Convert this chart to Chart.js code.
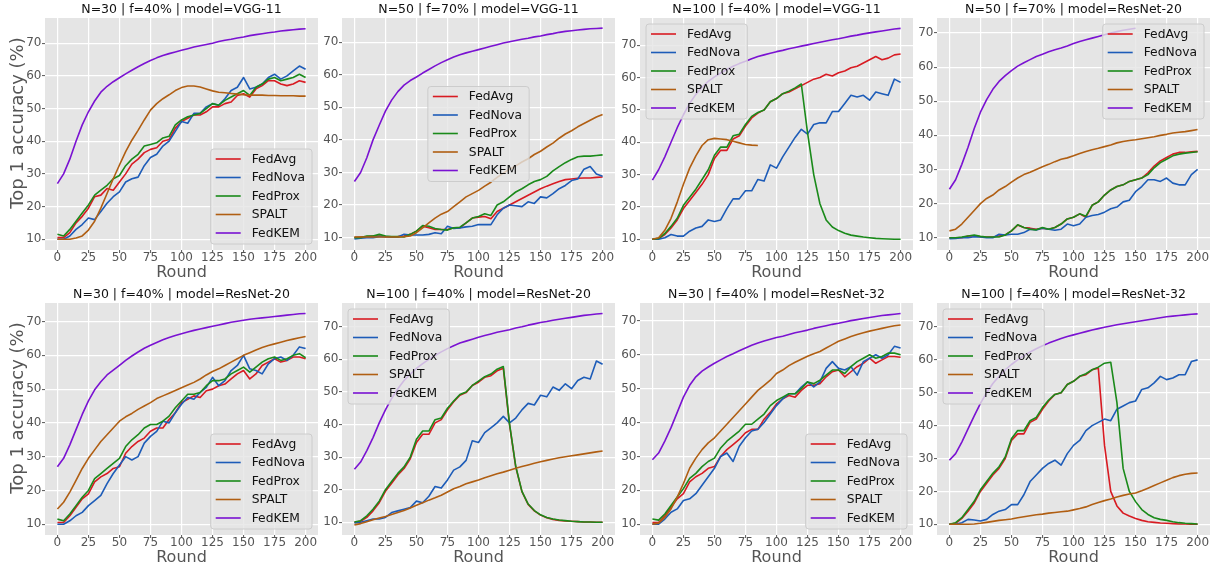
<!DOCTYPE html>
<html>
<head>
<meta charset="utf-8">
<script src="https://cdn.jsdelivr.net/npm/chart.js@4.4.0/dist/chart.umd.min.js"></script>
<style>
  html, body { margin: 0; padding: 0; background: #fff; }
  body { width: 1215px; height: 571px; position: relative; overflow: hidden; }
  canvas { position: absolute; }
</style>
</head>
<body>
<canvas id="c0"></canvas><canvas id="c1"></canvas><canvas id="c2"></canvas><canvas id="c3"></canvas>
<canvas id="c4"></canvas><canvas id="c5"></canvas><canvas id="c6"></canvas><canvas id="c7"></canvas>
<script>
// rounds sampled every 5
const rounds = [0,5,10,15,20,25,30,35,40,45,50,55,60,65,70,75,80,85,90,95,100,
  105,110,115,120,125,130,135,140,145,150,155,160,165,170,175,180,185,190,195,200];
const xTicks = [0,25,50,75,100,125,150,175,200];
const yTicks = [10,20,30,40,50,60,70];
const methods = ['FedAvg','FedNova','FedProx','SPALT','FedKEM'];
const titles = [
  'N=30 | f=40% | model=VGG-11', 'N=50 | f=70% | model=VGG-11',
  'N=100 | f=40% | model=VGG-11', 'N=50 | f=70% | model=ResNet-20',
  'N=30 | f=40% | model=ResNet-20', 'N=100 | f=40% | model=ResNet-20',
  'N=30 | f=40% | model=ResNet-32', 'N=100 | f=40% | model=ResNet-32'
];
const yRanges = [[6.7,77.7],[6.2,77.4],[6.7,78.4],[6.4,74.4],[6.8,75.5],[6.1,77.3],[6.8,75.3],[6.75,77.3]];

// panel 1: N=30 f=40% VGG-11
const p1FedAvg  = [10.5,10.5,12,15,17,19.5,23,23.5,25.5,25,27.5,30,33,34.5,36.5,37.5,38,40,40.5,44,46,47,48,48,49,50.5,50.5,51.5,52,54,54.5,53.5,56,57,58.5,58.5,57.5,57,57.5,58.5,58];
const p1FedNova = [10,10,11,13,14.5,16.5,16,18.5,21,23,24.5,27.5,28.5,29,32.5,35,36,38.5,40,43,46,45.5,48.5,48.5,50.5,51.5,51,53,55.5,56.5,59.5,56,56.5,57.5,59.5,60.5,59,60,61.5,63,62];
const p1FedProx = [11.5,11,13,15.5,18,20.5,23.5,25,26.5,28.5,29.5,32.5,34.5,36,38.5,39,39.5,41,41.5,45,46.5,47.5,48,48.5,50,51.5,51,52.5,53.5,54.5,55.5,54,56.5,57.5,59,59.5,58.5,59,59.5,60.5,59.5];
const p1SPALT   = [10,10,10,10.4,11,12.8,15.5,19.5,24,28.5,32.7,36.8,40.3,43.3,46.5,49.5,51.5,53,54.2,55.5,56.4,56.9,56.9,56.6,56,55.4,55,54.8,54.6,54.4,54.2,54.1,54.1,54.1,54,54,53.9,53.9,53.9,53.8,53.8];
const p1FedKEM  = [27,30,34.5,40,45,49,52.3,55,56.8,58.2,59.4,60.6,61.7,62.8,63.8,64.7,65.5,66.2,66.8,67.3,67.8,68.3,68.8,69.2,69.6,70,70.5,70.9,71.2,71.6,71.9,72.3,72.6,72.9,73.2,73.4,73.7,73.9,74.1,74.3,74.4];

// panel 2: N=50 f=70% VGG-11
const p2FedAvg  = [10,10.2,10.3,10.5,10.5,10.3,10.2,10.3,10.5,11,12,13.5,13,12.5,12.5,12.5,13,13,14.5,16,16.3,16.5,15.8,18,19,20,21,22,23,24,25,25.8,26.5,27.2,27.8,28,28.2,28.3,28.3,28.5,28.6];
const p2FedNova = [9.6,9.8,10,10,10.3,10.3,10.2,10.2,11,10.8,10.8,10.8,11,11.5,11.2,13.5,12.8,13,13.3,13.5,14,14,14,17,19,20,19.8,19.5,21,20.5,22.5,22.2,23.5,25,26,27.5,28,31,31.8,29.5,28.8];
const p2FedProx = [10,10,10.5,10.5,11,10.5,10.3,10.3,10.2,11,12,13.7,13.5,12.8,12.5,12.3,13,13.2,14.5,16,16.5,17.3,16.8,20,21,22.5,24,25,26.2,27.2,27.8,28.8,30.5,31.8,33,34,34.8,35,35,35.2,35.4];
const p2SPALT   = [10.2,10.2,10.2,10.2,10.2,10.2,10.2,10.2,10.3,10.5,11.5,13,14.5,16,17.2,18,19.5,21,22.5,23.5,24.5,25.8,27,28.5,29.8,31,32,33.2,34.2,35.5,36.5,37.8,39,40.5,41.8,42.8,44,45,46,47,47.8];
const p2FedKEM  = [27.2,30,34.5,40,44.5,48.8,52.2,54.8,56.8,58.2,59.3,60.5,61.6,62.7,63.7,64.6,65.4,66.1,66.7,67.2,67.7,68.2,68.7,69.2,69.7,70.1,70.5,70.9,71.2,71.6,71.9,72.3,72.6,73,73.3,73.5,73.7,73.9,74.1,74.2,74.3];

// panel 3: N=100 f=40% VGG-11
const p3FedAvg  = [10,10.2,11.5,13.5,16,19.5,22,24.5,27,30,35,37.5,37.5,41,42,45,47.5,49,50,52.5,53.5,55,55.5,56.5,57.5,58.5,59.5,60,61,60.5,61.5,62,63,63.5,64.5,65.5,66.5,65.5,66,67,67.3];
const p3FedNova = [10,10,10.5,11.5,11,11,12.5,13.5,14,16,15.5,16,19.5,22.5,22.5,25,25,28.5,28,33,32,35.5,38.5,41.5,44,42.5,45.5,46,46,49.5,49.5,52,54.5,54,54.5,53,55.5,55,54.5,59.5,58.5];
const p3FedProx = [10,10.3,11.8,14,16.5,20.5,23,25.5,28.5,31.5,36,38.5,38.5,42,42.5,45.5,48,49.2,50,52.5,53.5,55,55.8,56.8,58,43,30,21,16,13.8,12.7,11.9,11.3,11,10.7,10.5,10.3,10.2,10.1,10,10];
const p3SPALT   = [10,10.5,12.8,16.5,21.5,27,32,35.8,39,40.8,41.2,41,40.8,40.3,39.8,39.3,39.1,39,
  null,null,null,null,null,null,null,null,null,null,null,null,null,null,null,null,null,null,null,null,null,null,null];
const p3FedKEM  = [28.3,31.5,35.5,40,44.5,48.5,52,54.8,57,58.8,60.2,61.4,62.5,63.5,64.3,65,65.8,66.5,67,67.5,68,68.4,68.9,69.3,69.7,70.1,70.5,70.9,71.3,71.7,72,72.4,72.8,73.1,73.5,73.8,74.1,74.4,74.7,75,75.2];

// panel 4: N=50 f=70% ResNet-20
const p4FedAvg  = [10,10,10,10.5,10.5,10.3,10.2,10.2,10.5,10.8,12,13.7,13,12.8,12.5,12.8,12.5,13,14,15.5,16,17,16,19.5,20.5,22.5,24,25,25.5,26.5,27,27.5,29,31,32.5,33.5,34.5,35,35,35.2,35.3];
const p4FedNova = [9.7,9.8,10,10,10.3,10.2,10,10,11,10.8,11,11,11.5,12.5,12.3,12.8,12.5,12.2,12.5,14,13.5,14,16,16.5,16.8,17.5,18.5,19,20.5,21,23.5,25,27,27,26.5,27.5,26,25.5,25.5,28.5,30];
const p4FedProx = [10,10,10.2,10.5,10.8,10.4,10.2,10.2,10.2,10.8,12,13.8,13,12.5,12.3,13,12.5,13,14,15.5,16,17,16.3,19.5,20.5,22.5,24,25,25.5,26.5,27,27.5,28.5,30.5,32,33,34,34.5,34.8,35,35.2];
const p4SPALT   = [12,12.5,14,16,18,20,21.5,22.5,24,25,26.3,27.5,28.5,29.2,30,30.8,31.5,32.3,33,33.4,34,34.7,35.3,35.8,36.2,36.7,37.2,37.8,38.2,38.5,38.7,39,39.3,39.6,40,40.3,40.7,40.9,41.1,41.4,41.7];
const p4FedKEM  = [24.2,27,31.5,36.5,42,46.8,50.5,53.5,55.8,57.5,59,60.3,61.3,62.2,63.1,63.8,64.5,65.1,65.6,66.2,66.9,67.5,68,68.5,69,69.5,70,70.4,70.8,71.1,71.4,
  null,null,null,null,null,null,null,null,null,null];

// panel 5: N=30 f=40% ResNet-20
const p5FedAvg  = [10.5,10.5,12.5,15,17.5,19,22.5,24,25,26.5,27,31,33,34.5,35.5,37.5,38.5,38.5,41,43,46,47,48,47.5,49.5,50,51,51.5,53,54.5,55.5,53,54.5,57,58,59,58,58.5,59.5,59.5,59];
const p5FedNova = [10,10,11,12.5,13.5,15.5,17,18.5,22,25,27.5,30,29,30,34,36,37.5,40.5,40,43,45.5,47.5,47,49,50.5,53.5,51,52.5,55.5,57,60,56,55.5,54.5,57.5,59,59.5,58.5,60,62.5,62];
const p5FedProx = [11.5,11,13,15.5,18,20,23.5,25,26.5,28,29.5,33,35,36.5,38.5,39.5,39.5,40.5,42,44.5,46.5,48.5,48.5,49,51,52.5,52.5,53,54.5,55.5,56.5,55,56.5,58,59,59.5,58.5,59,60,60.5,59.3];
const p5SPALT   = [14.5,16.5,19.5,23,26.5,29.5,32,34.5,36.5,38.5,40.5,41.8,42.8,44,45,46,47.2,48,48.8,49.6,50.4,51.2,52,53,54.2,55.2,56,57,58,59,60,60.8,61.6,62.3,62.9,63.4,63.9,64.4,64.8,65.2,65.6];
const p5FedKEM  = [27,29.5,33.5,38,42.5,46.5,49.8,52.2,54.2,55.6,57,58.5,59.8,61,62.1,63,63.8,64.6,65.3,65.9,66.4,66.9,67.4,67.8,68.2,68.6,69,69.4,69.8,70.1,70.4,70.7,70.9,71.1,71.3,71.5,71.7,71.9,72.1,72.3,72.4];

// panel 6: N=100 f=40% ResNet-20
const p6FedAvg  = [10,10.3,11.5,13.5,16,19.5,22,24.5,26.5,29.5,34.5,37,37,40.5,41.5,44.5,47,49,49.8,52,53,54.5,55,56.5,57.3,40,27,19.4,15.5,13.5,12.2,11.4,10.9,10.6,10.4,10.3,10.2,10.1,10.1,10,10];
const p6FedNova = [9.8,10,10.5,11,11,11.5,13,13.5,14,14.5,16.5,16,18,21,20.5,23,26,27,29,35,34.5,37.5,39,40.5,42.5,40.5,42,44.5,46.5,46,49,48.5,51.5,50.5,52.5,51,53.5,54.5,54,59.5,58.5];
const p6FedProx = [10.1,10.5,12,14,16.5,20,22.5,25,27,30,35.5,38,38,41.5,42,45,47.2,49.2,50,52,53.3,54.7,55.5,57,57.8,40.2,27.2,19.5,15.6,13.6,12.3,11.5,11,10.7,10.5,10.3,10.2,10.1,10.1,10,10];
const p6SPALT   = [9.2,9.6,10.2,10.8,11.3,11.8,12.4,13,13.6,14.4,15.2,16,16.8,17.5,18.3,19.3,20.3,21,21.8,22.4,23,23.7,24.3,24.9,25.4,26,26.6,27.1,27.6,28.1,28.6,29,29.4,29.8,30.1,30.4,30.7,31,31.3,31.6,31.9];
const p6FedKEM  = [26.3,28.5,32,36,40.5,44.5,48,51,53.5,55.5,57.2,58.7,60,61.2,62.3,63.3,64.2,65,65.6,66.2,66.8,67.3,67.8,68.3,68.7,69.1,69.6,70,70.5,70.9,71.3,71.6,72,72.3,72.6,72.9,73.2,73.5,73.7,73.9,74.1];

// panel 7: N=30 f=40% ResNet-32
const p7FedAvg  = [10.5,10.5,12.5,15,17.5,19,22.5,24,25,26.5,27,30,32,33.5,35,37,38,38,41,43,45.5,47,48,47.5,49.5,51,51,51.5,53.5,55,55.5,53.5,55,56.5,57.5,59,57.5,58.5,59.5,59.5,59.3];
const p7FedNova = [10,10,11.5,13.5,14.5,17,17.5,19,21.5,24,26.5,30,31,28.5,33,35.5,37.5,38,40,42.5,45,47,48.5,48.5,50.5,52,50.5,52,56,58,56,55.5,56.5,54,58,59,60,59,60,62.5,62];
const p7FedProx = [11.5,11.2,13,15.5,18,20.5,23.5,25,27,28.5,29.5,32.5,34.5,36,37.5,39.5,39.5,41,42.5,45,46.5,47.5,48.5,48.5,50,52,51.5,52.5,54,55.5,55.5,54.5,56.5,58,59,60,59,59.5,60.5,60.5,60];
const p7SPALT   = [10,10.3,12,14.5,18,22,26.5,29.5,32,34,35.5,37.5,39.5,41.5,43.5,45.5,47.5,49.5,51,52.5,54.5,55.5,56.8,57.8,58.7,59.6,60.3,61,62,63,64,64.7,65.4,66,66.5,67,67.4,67.8,68.2,68.6,68.8];
const p7FedKEM  = [29,31,34.5,38.5,43,47.5,51,53.5,55.2,56.4,57.5,58.5,59.5,60.3,61.2,62,62.8,63.5,64.1,64.6,65.1,65.5,66,66.5,66.9,67.3,67.8,68.2,68.6,69,69.3,69.7,70.1,70.4,70.7,71,71.3,71.6,71.8,72,72.2];

// panel 8: N=100 f=40% ResNet-32
const p8FedAvg  = [10,10.3,11.8,14,16.5,20,22.5,25,27,30,35.5,37.5,37.5,41,42,45,47.5,49.5,50,52.5,53.5,55,55.5,57,57.5,34,20,15.6,13.4,12.5,11.8,11.2,10.8,10.6,10.4,10.3,10.2,10.1,10.1,10,10];
const p8FedNova = [10,10,10.5,11.5,11.3,11,11.5,13,14,14.5,16,16,19,23,25,27,28.5,29.5,28,31.5,34,35.5,38.5,40,41,42,41.5,45,46,47,47.5,51,51.5,53,55,54,54.5,55.5,55.5,59.5,60];
const p8FedProx = [10,10.5,12,14.5,17,20.5,23,25.5,27.5,30.5,36,38.5,38.5,41.5,42.5,45.5,47.8,49.5,50,52.5,53.5,55,55.8,57,57.8,59,59.3,47,27,20,16.9,14.5,13,12,11.5,11.2,10.8,10.5,10.3,10.2,10.1];
const p8SPALT   = [10,10,10,10,10.1,10.3,10.6,10.9,11.2,11.4,11.6,12,12.3,12.6,12.9,13.1,13.4,13.6,13.8,14,14.4,14.8,15.3,16,16.6,17.2,17.7,18.3,18.8,19.2,19.5,20.2,21,21.8,22.6,23.4,24.2,24.8,25.2,25.5,25.6];
const p8FedKEM  = [29.5,31.5,35,39,43,46.8,50,52.8,55,57,58.6,60,61.3,62.4,63.4,64.3,65.1,65.8,66.5,67.1,67.6,68.1,68.6,69.1,69.5,69.9,70.3,70.7,71,71.3,71.6,71.9,72.2,72.5,72.8,73.1,73.3,73.5,73.7,73.9,74];

const panelSeries = [
  [p1FedAvg, p1FedNova, p1FedProx, p1SPALT, p1FedKEM],
  [p2FedAvg, p2FedNova, p2FedProx, p2SPALT, p2FedKEM],
  [p3FedAvg, p3FedNova, p3FedProx, p3SPALT, p3FedKEM],
  [p4FedAvg, p4FedNova, p4FedProx, p4SPALT, p4FedKEM],
  [p5FedAvg, p5FedNova, p5FedProx, p5SPALT, p5FedKEM],
  [p6FedAvg, p6FedNova, p6FedProx, p6SPALT, p6FedKEM],
  [p7FedAvg, p7FedNova, p7FedProx, p7SPALT, p7FedKEM],
  [p8FedAvg, p8FedNova, p8FedProx, p8SPALT, p8FedKEM]
];

// styling / layout
const colors = ['#d81b22', '#1d5cb8', '#1a8a1a', '#b05e12', '#7a12d2'];
const legendLocs = ['lower right','center','upper left','upper right','lower right','upper left','lower right','upper left'];
const plotLefts = [45, 342, 640, 937];
const plotTops = [18, 303];
const plotW = 273, axisW = 45, padTop = 18, axisH = 36;
const FONT = "'DejaVu Sans', sans-serif";

const panelDecor = {
  id: 'panelDecor',
  beforeDraw(chart) {
    const {ctx, chartArea: a} = chart;
    ctx.save();
    ctx.fillStyle = '#e5e5e5';
    ctx.fillRect(a.left, a.top, a.right - a.left, a.bottom - a.top);
    ctx.restore();
  },
  afterDatasetsDraw(chart, args, opts) {
    const {ctx, chartArea: a} = chart;
    const ds = chart.data.datasets;
    ctx.save();
    ctx.font = '12.3px ' + FONT;
    let tw = 0;
    ds.forEach(d => { tw = Math.max(tw, ctx.measureText(d.label).width); });
    const w = 41 + tw + 7, h = 95, gap = 6;
    let x, y;
    if (opts.loc === 'lower right') { x = a.right - gap - w; y = a.bottom - gap - h; }
    else if (opts.loc === 'upper left') { x = a.left + gap; y = a.top + gap; }
    else if (opts.loc === 'upper right') { x = a.right - gap - w; y = a.top + gap; }
    else { x = (a.left + a.right) / 2 - w / 2; y = (a.top + a.bottom) / 2 - h / 2; }
    ctx.beginPath();
    ctx.roundRect(x, y, w, h, 3);
    ctx.fillStyle = 'rgba(229,229,229,0.8)';
    ctx.fill();
    ctx.strokeStyle = '#cccccc';
    ctx.lineWidth = 1;
    ctx.stroke();
    ds.forEach((d, k) => {
      const cy = y + 10 + k * 18.5;
      ctx.beginPath();
      ctx.moveTo(x + 5, cy);
      ctx.lineTo(x + 30, cy);
      ctx.strokeStyle = d.borderColor;
      ctx.lineWidth = 1.6;
      ctx.stroke();
      ctx.fillStyle = '#111';
      ctx.textBaseline = 'middle';
      ctx.textAlign = 'left';
      ctx.fillText(d.label, x + 41, cy + 0.5);
    });
    ctx.restore();
  },
  afterDraw(chart, args, opts) {
    const {ctx, chartArea: a} = chart;
    ctx.save();
    ctx.fillStyle = '#111';
    ctx.font = '12.5px ' + FONT;
    ctx.textAlign = 'center';
    ctx.textBaseline = 'middle';
    ctx.fillText(opts.title, (a.left + a.right) / 2, a.top - 8);
    if (opts.ylabel) {
      ctx.translate(18.3, (a.top + a.bottom) / 2 - 11);
      ctx.rotate(-Math.PI / 2);
      ctx.fillStyle = '#555';
      ctx.font = '18px ' + FONT;
      ctx.fillText(opts.ylabel, 0, 0);
    }
    ctx.restore();
  }
};

for (let i = 0; i < 8; i++) {
  const col = i % 4, row = Math.floor(i / 4);
  const cv = document.getElementById('c' + i);
  cv.width = axisW + plotW + 2;
  cv.height = padTop + 232 + axisH;
  cv.style.left = (plotLefts[col] - axisW) + 'px';
  cv.style.top = (plotTops[row] - padTop) + 'px';

  const datasets = panelSeries[i].map((vals, k) => ({
    label: methods[k],
    data: vals.map((v, j) => ({x: rounds[j], y: v})),
    borderColor: colors[k],
    backgroundColor: colors[k],
    borderWidth: 1.6,
    borderJoinStyle: 'round',
    pointRadius: 0,
    tension: 0,
    fill: false,
    order: methods.length - k
  }));

  new Chart(cv.getContext('2d'), {
    type: 'line',
    data: {datasets},
    options: {
      responsive: false,
      animation: false,
      events: [],
      layout: {padding: {top: padTop, right: 2, left: 0, bottom: 0}},
      plugins: {
        legend: {display: false},
        tooltip: {enabled: false},
        panelDecor: {title: titles[i], loc: legendLocs[i], ylabel: col === 0 ? 'Top 1 accuracy (%)' : ''}
      },
      scales: {
        x: {
          type: 'linear', min: -10, max: 210,
          afterBuildTicks: s => { s.ticks = xTicks.map(v => ({value: v})); },
          afterFit: s => { s.height = axisH; },
          ticks: {color: '#555', font: {family: FONT, size: 12, lineHeight: 1}, padding: -1.5, maxRotation: 0, autoSkip: false},
          grid: {color: '#ffffff', lineWidth: 1.2, tickLength: 3, tickColor: '#555', tickWidth: 1},
          border: {display: false},
          title: {display: true, text: 'Round', color: '#555', font: {family: FONT, size: 16}, padding: {top: 0, bottom: 4}}
        },
        y: {
          type: 'linear', min: yRanges[i][0], max: yRanges[i][1],
          afterBuildTicks: s => { s.ticks = yTicks.map(v => ({value: v})); },
          afterFit: s => { s.width = axisW; },
          ticks: {color: '#555', font: {family: FONT, size: 12}, padding: 0.5},
          grid: {color: '#ffffff', lineWidth: 1.2, tickLength: 3, tickColor: '#555', tickWidth: 1},
          border: {display: false}
        }
      }
    },
    plugins: [panelDecor]
  });
}
</script>
</body>
</html>
